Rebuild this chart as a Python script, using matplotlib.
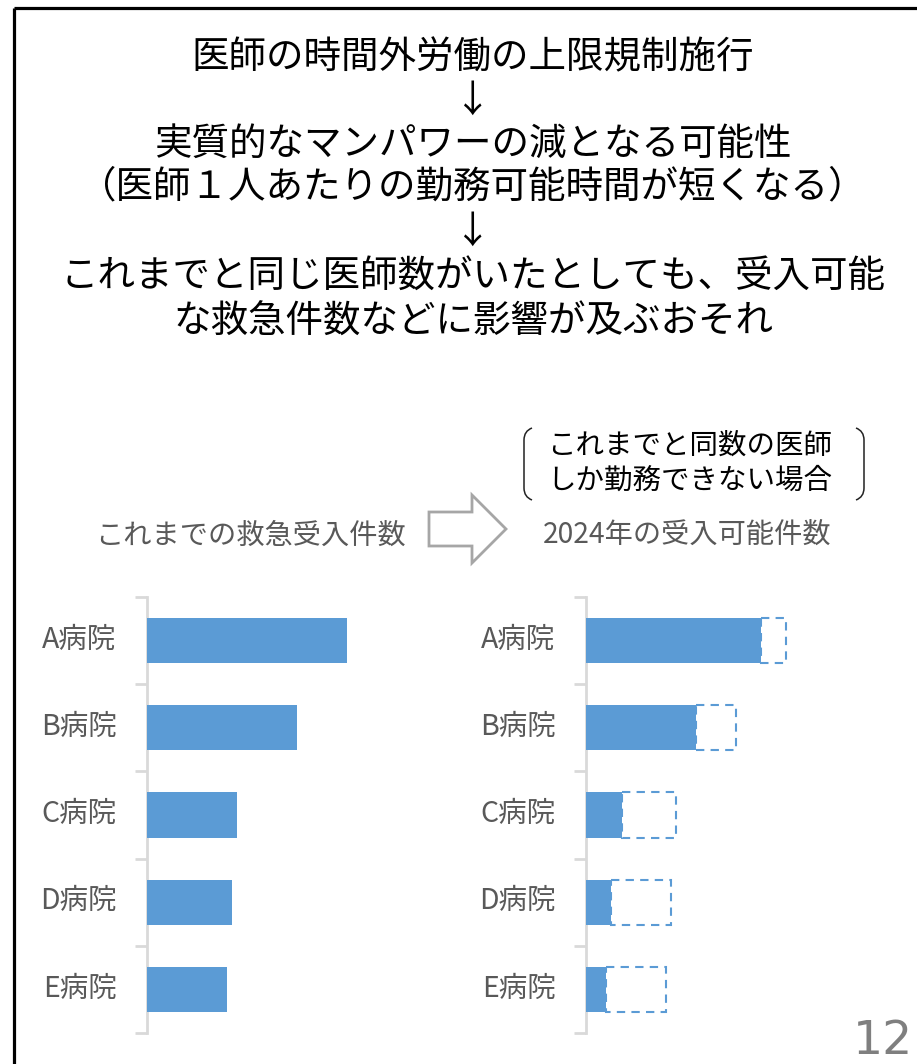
import matplotlib
matplotlib.use("Agg")
import matplotlib.pyplot as plt
from matplotlib.path import Path
from matplotlib.patches import PathPatch, Polygon
import numpy as np

plt.rcParams['font.family'] = ['Noto Sans CJK JP', 'DejaVu Sans']

# ---- data ----
hospitals = ["A病院", "B病院", "C病院", "D病院", "E病院"]
current_cases = [200, 150, 90, 85, 80]       # これまでの救急受入件数
cases_2024 = [175, 110, 36, 25, 20]           # 2024年の受入可能件数

title_lines = [
    "医師の時間外労働の上限規制施行",
    "↓",
    "実質的なマンパワーの減となる可能性",
    "（医師１人あたりの勤務可能時間が短くなる）",
    "↓",
    "これまでと同じ医師数がいたとしても、受入可能",
    "な救急件数などに影響が及ぶおそれ",
]
left_title = "これまでの救急受入件数"
right_title = "2024年の受入可能件数"
note_text = "これまでと同数の医師\nしか勤務できない場合"
page_no = "12"

BAR = "#5b9bd5"
GRAY = "#595959"
AXC = "#d9d9d9"

W, H = 917, 1064
fig = plt.figure(figsize=(W / 100, H / 100), dpi=100)

# overlay axes in pixel coordinates
ov = fig.add_axes([0, 0, 1, 1])
ov.set_xlim(0, W)
ov.set_ylim(H, 0)
ov.axis("off")

# frame (top + left)
ov.plot([14, W + 5], [8, 8], color="black", lw=2.3, solid_capstyle="butt")
ov.plot([14, 14], [8, H + 5], color="black", lw=2.3, solid_capstyle="butt")

# title lines
ys = [58, 101, 144, 187, 232, 277, 322]
for t, y in zip(title_lines, ys):
    ov.text(473, y, t, fontsize=27, ha="center", va="center", color="black")

# note with brackets
ov.text(690, 463, note_text, fontsize=20.5, ha="center", va="center",
        color="black", linespacing=1.2)
def bracket(x_in, x_out, y0, y1):
    verts = [(x_in, y0), (x_out, y0 + 3), (x_out, y0 + 12),
             (x_out, y1 - 12), (x_out, y1 - 3), (x_in, y1)]
    codes = [Path.MOVETO, Path.CURVE3, Path.CURVE3,
             Path.LINETO, Path.CURVE3, Path.CURVE3]
    ov.add_patch(PathPatch(Path(verts, codes), fill=False, ec="#222222", lw=1.1))
bracket(532, 524, 428, 500)
bracket(856, 864, 428, 500)

# subtitles
ov.text(250, 536, left_title, fontsize=20.3, ha="center", va="center", color=GRAY)
ov.text(687, 536, right_title, fontsize=20.3, ha="center", va="center", color=GRAY)

# hollow block arrow
arrow_pts = [(429, 512), (472, 512), (472, 495), (506, 529),
             (472, 563), (472, 546), (429, 546)]
ov.add_patch(Polygon(arrow_pts, closed=True, fill=False, ec="#a6a6a6", lw=2))

# page number
ov.text(913, 1041, page_no, fontsize=34, ha="right", va="center",
        color="#7f7f7f", family=["DejaVu Sans"])

# ---- bar charts ----
def px_rect(x0, y0, x1, y1):
    return [x0 / W, 1 - y1 / H, (x1 - x0) / W, (y1 - y0) / H]

def setup(ax):
    ax.set_xlim(0, 300)
    ax.set_ylim(len(hospitals) - 0.5, -0.5)
    for s in ["top", "right", "bottom"]:
        ax.spines[s].set_visible(False)
    ax.spines["left"].set_color(AXC)
    ax.spines["left"].set_linewidth(2)
    ax.set_xticks([])
    ax.set_yticks(np.arange(len(hospitals) + 1) - 0.5)
    ax.set_yticklabels([])
    ax.tick_params(axis="y", which="major", length=9, width=2, color=AXC)
    ax.set_yticks(np.arange(len(hospitals)) - 0.05, minor=True)
    ax.set_yticklabels(hospitals, minor=True)
    ax.tick_params(axis="y", which="minor", length=0, pad=22,
                   labelsize=20.5, labelcolor=GRAY)
    ax.patch.set_alpha(0)

y = np.arange(len(hospitals))

ax1 = fig.add_axes(px_rect(147, 597, 447, 1033))
setup(ax1)
ax1.barh(y, current_cases, height=0.52, color=BAR, zorder=3)

ax2 = fig.add_axes(px_rect(586, 597, 886, 1033))
setup(ax2)
ax2.barh(y, cases_2024, height=0.52, color=BAR, zorder=3)
ax2.barh(y, np.array(current_cases) - np.array(cases_2024), left=cases_2024,
         height=0.52, fill=False, edgecolor=BAR, linewidth=1.5,
         linestyle=(0, (4, 3)), zorder=2)

fig.savefig("out.png", dpi=100)
